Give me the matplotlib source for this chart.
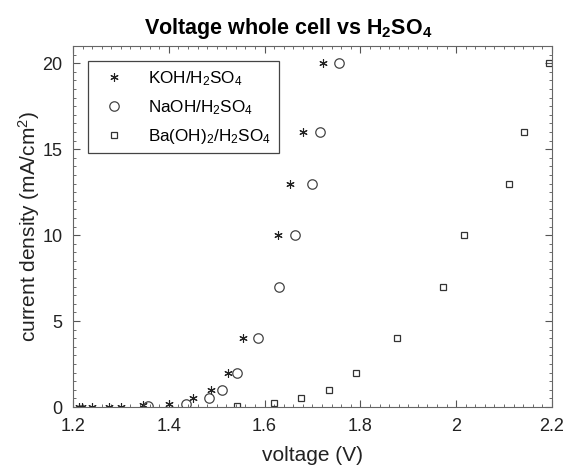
import matplotlib
matplotlib.use('Agg')
import matplotlib.pyplot as plt
from matplotlib.ticker import MultipleLocator

plt.rcParams['font.family'] = ['Liberation Sans', 'DejaVu Sans']
plt.rcParams['mathtext.default'] = 'regular'

# datos
koh_v = [1.212, 1.218, 1.239, 1.276, 1.300, 1.347, 1.401, 1.450, 1.488, 1.523, 1.556, 1.629, 1.653, 1.680, 1.723]
koh_j = [0, 0, 0, 0, 0, 0.1, 0.2, 0.5, 1, 2, 4, 10, 13, 16, 20]

naoh_v = [1.356, 1.436, 1.483, 1.512, 1.542, 1.586, 1.630, 1.664, 1.698, 1.716, 1.756]
naoh_j = [0.05, 0.2, 0.5, 1, 2, 4, 7, 10, 13, 16, 20]

ba_v = [1.543, 1.620, 1.677, 1.735, 1.790, 1.876, 1.972, 2.016, 2.111, 2.141, 2.194]
ba_j = [0.05, 0.25, 0.5, 1, 2, 4, 7, 10, 13, 16, 20]

labels = ['KOH/H$_2$SO$_4$', 'NaOH/H$_2$SO$_4$', 'Ba(OH)$_2$/H$_2$SO$_4$']

fig = plt.figure(figsize=(5.67, 4.65), dpi=100)
ax = fig.add_axes([0.1287, 0.1247, 0.8448, 0.7763])

ax.plot(koh_v, koh_j, linestyle='none', marker=(6, 2, 0), markersize=6,
        markeredgewidth=0.8, color='#222222', label=labels[0])
ax.plot(naoh_v, naoh_j, linestyle='none', marker='o', markersize=6.8,
        markerfacecolor='none', markeredgewidth=0.9, color='#444444', label=labels[1])
ax.plot(ba_v, ba_j, linestyle='none', marker='s', markersize=5,
        markerfacecolor='none', markeredgewidth=0.9, color='#333333', label=labels[2])

ax.set_xlim(1.2, 2.2)
ax.set_ylim(0, 21)
ax.set_xticks([1.2, 1.4, 1.6, 1.8, 2.0, 2.2])
ax.set_xticklabels(['1.2', '1.4', '1.6', '1.8', '2', '2.2'])
ax.set_yticks([0, 5, 10, 15, 20])
ax.xaxis.set_minor_locator(MultipleLocator(0.02))
ax.yaxis.set_minor_locator(MultipleLocator(0.5))
ax.tick_params(which='both', direction='in', top=True, right=True, colors='#555555',
               labelcolor='#222222', labelsize=13)
ax.tick_params(which='major', length=5)
ax.tick_params(which='minor', length=2.5)
ax.tick_params(axis='x', which='major', pad=8)
ax.tick_params(axis='y', which='major', pad=7.5)
for s in ax.spines.values():
    s.set_color('#666666')

ax.set_xlabel('voltage (V)', fontsize=15, color='#222222', labelpad=8)
ax.set_ylabel('current density (mA/cm$^2$)', fontsize=15, color='#222222', labelpad=0)
ax.set_title('Voltage whole cell vs H$_2$SO$_4$', fontsize=15.5, fontweight='bold',
             pad=9, x=0.449)

leg = ax.legend(loc='upper left', bbox_to_anchor=(0.031, 0.958), borderaxespad=0,
                fontsize=12.3, fancybox=False, framealpha=1, edgecolor='#444444',
                handletextpad=0.9, borderpad=0.45, labelspacing=0.6, handlelength=2.2)
leg.get_frame().set_linewidth(0.9)

fig.savefig('out.png', dpi=100)
